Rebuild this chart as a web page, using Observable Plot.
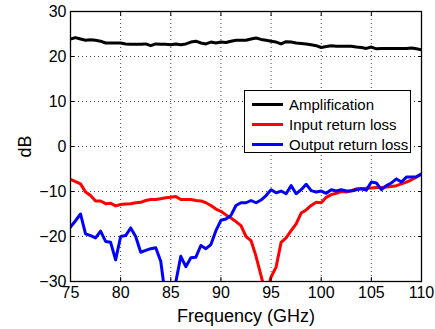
<!DOCTYPE html>
<html>
<head>
<meta charset="utf-8">
<script src="https://cdn.jsdelivr.net/npm/d3@7"></script>
<script src="https://cdn.jsdelivr.net/npm/@observablehq/plot@0.6"></script>
<style>
  body { margin: 0; background: #fff; }
  #wrap { position: relative; width: 435px; height: 329px; font-family: "Liberation Sans", Arial, sans-serif; }
  #legend { position: absolute; left: 244px; top: 90px; width: 167px; height: 63px; border: 1.3px solid #000; background: #fff; box-sizing: border-box; }
  .row { position: absolute; left: 0; height: 20px; display: flex; align-items: center; font-size: 15px; color: #000; }
  .sw { width: 31px; height: 3px; margin-left: 7px; margin-right: 6px; }
</style>
</head>
<body>
<div id="wrap"></div>
<script>
const freq = [75,75.5,76,76.5,77,77.5,78,78.5,79,79.5,80,80.5,81,81.5,82,82.5,83,83.5,84,84.5,85,85.5,86,86.5,87,87.5,88,88.5,89,89.5,90,90.5,91,91.5,92,92.5,93,93.5,94,94.5,95,95.5,96,96.5,97,97.5,98,98.5,99,99.5,100,100.5,101,101.5,102,102.5,103,103.5,104,104.5,105,105.5,106,106.5,107,107.5,108,108.5,109,109.5,110];
const amplification = [23.9,24.2,23.9,23.6,23.7,23.6,23.4,23.0,23.0,23.0,23.0,22.8,22.7,22.7,22.7,22.8,22.4,22.8,22.7,22.7,22.6,22.8,22.6,22.8,23.2,23.4,23.0,22.8,23.2,23.0,23.2,23.1,23.4,23.6,23.6,23.6,23.9,24.1,23.8,23.6,23.4,23.2,22.8,23.3,23.2,23.0,22.9,22.8,22.6,22.4,22.0,22.2,22.4,22.3,22.3,22.3,22.3,22.1,22.0,21.8,22.1,21.7,21.8,21.8,21.8,21.8,21.8,21.8,21.9,21.7,21.5];
const inputReturnLoss = [-7.3,-7.8,-8.3,-10.1,-10.9,-12.1,-12.1,-12.7,-12.6,-13.2,-12.9,-12.8,-12.7,-12.5,-12.4,-12.0,-11.8,-11.8,-11.6,-11.4,-11.3,-11.1,-11.8,-11.8,-11.8,-12.0,-12.1,-12.5,-13.1,-13.9,-14.4,-15.2,-15.9,-16.7,-17.6,-20.0,-20.9,-24.4,-28.7,-33,-29.0,-26.8,-21.3,-20.3,-18.7,-17.2,-14.8,-14.1,-13.1,-12.4,-12.5,-11.3,-10.7,-10.4,-10.0,-10.1,-9.8,-9.4,-9.4,-9.3,-9.2,-9.1,-9.1,-9.0,-8.9,-8.7,-8.3,-7.9,-7.4,-6.8,-6.1];
const outputReturnLoss = [-17.9,-16.5,-15.0,-19.4,-19.8,-20.3,-18.8,-21.1,-21.3,-25.2,-20.0,-19.8,-18.1,-20.0,-23.5,-23.1,-22.7,-22.5,-25.5,-34,-35,-30.1,-24.4,-26.7,-24.7,-24.6,-22.0,-22.7,-21.8,-18.7,-16.4,-16.1,-15.3,-13.1,-12.5,-12.5,-12.0,-12.5,-11.9,-10.9,-9.6,-10.3,-9.9,-10.5,-8.7,-10.5,-9.6,-8.4,-9.8,-10.1,-9.9,-10.4,-9.6,-9.9,-9.6,-9.9,-9.9,-9.6,-9.4,-9.7,-7.9,-8.1,-9.6,-8.7,-8.1,-7.2,-7.9,-6.8,-6.8,-6.7,-6.1];
const xTicks = [75,80,85,90,95,100,105,110];
const yTicks = [-30,-20,-10,0,10,20,30];
const seriesNames = ["Amplification","Input return loss","Output return loss"];
const seriesColors = ["#000000","#ff0000","#0000ff"];

const rows = [];
[amplification, inputReturnLoss, outputReturnLoss].forEach((arr, k) => {
  arr.forEach((v, i) => rows.push({f: freq[i], v, s: seriesNames[k]}));
});
const fmt = d => d < 0 ? "\u2212" + Math.abs(d) : String(d);
const blank = () => "";

const chart = Plot.plot({
  width: 435, height: 329,
  marginLeft: 70, marginRight: 14, marginTop: 11, marginBottom: 48,
  style: {fontFamily: "'Liberation Sans', Arial, sans-serif", background: "#fff", color: "#000"},
  x: {domain: [75, 110]},
  y: {domain: [-30, 30]},
  color: {domain: seriesNames, range: seriesColors},
  marks: [
    Plot.gridX(xTicks, {stroke: "#000", strokeOpacity: 0.75, strokeDasharray: "1,3"}),
    Plot.gridY(yTicks, {stroke: "#000", strokeOpacity: 0.75, strokeDasharray: "1,3"}),
    Plot.line(rows, {x: "f", y: "v", z: "s", stroke: "s", strokeWidth: 3, clip: true}),
    Plot.axisX(xTicks, {tickSize: -4, tickPadding: 9, tickFormat: fmt, fontSize: 16, label: null}),
    Plot.axisX(xTicks, {anchor: "top", tickSize: -4, tickFormat: blank, label: null}),
    Plot.axisY(yTicks, {tickSize: -4, tickPadding: 8, tickFormat: fmt, fontSize: 16, label: null}),
    Plot.axisY(yTicks, {anchor: "right", tickSize: -4, tickFormat: blank, label: null}),
    Plot.axisX([], {label: "Frequency (GHz)", labelAnchor: "center", labelArrow: "none", labelOffset: 40, fontSize: 18}),
    Plot.axisY([], {label: "dB", labelAnchor: "center", labelArrow: "none", labelOffset: 52, fontSize: 18}),
    Plot.frame({stroke: "#000", strokeWidth: 1.3})
  ]
});
const wrap = document.getElementById("wrap");
wrap.appendChild(chart);

const legend = document.createElement("div");
legend.id = "legend";
seriesNames.forEach((name, k) => {
  const r = document.createElement("div");
  r.className = "row";
  r.style.top = (3 + k * 20) + "px";
  const sw = document.createElement("span");
  sw.className = "sw";
  sw.style.background = seriesColors[k];
  const t = document.createElement("span");
  t.textContent = name;
  r.appendChild(sw); r.appendChild(t);
  legend.appendChild(r);
});
wrap.appendChild(legend);
</script>
</body>
</html>
